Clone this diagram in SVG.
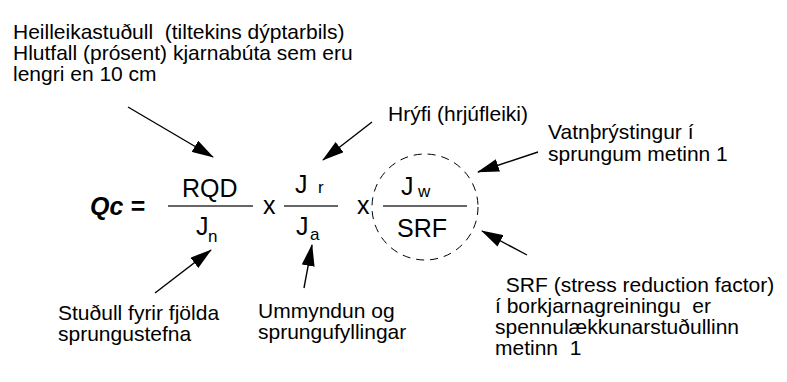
<svg xmlns="http://www.w3.org/2000/svg" width="787" height="382" viewBox="0 0 787 382">
<defs>
<marker id="ah" markerWidth="22" markerHeight="13" refX="21" refY="6.5" orient="auto" markerUnits="userSpaceOnUse" viewBox="0 0 22 13">
<path d="M0,0 L22,6.5 L0,13 Z" fill="#000"/>
</marker>
</defs>
<style>
text{font-family:"Liberation Sans",Arial,sans-serif;fill:#000}
.lbl{font-size:21px}
.f{font-size:25px}
.s{font-size:17px}
.q{font-size:25px;font-weight:bold;font-style:italic}
.bar{stroke:#333;stroke-width:1.4}
.arr{stroke:#000;stroke-width:1.4;fill:none;marker-end:url(#ah)}
</style>
<rect width="787" height="382" fill="#fff"/>
<g id="label-rqd">
<text class="lbl" x="13" y="39" xml:space="preserve">Heilleikastuðull  (tiltekins dýptarbils)</text>
<text class="lbl" x="13" y="60">Hlutfall (prósent) kjarnabúta sem eru</text>
<text class="lbl" x="13" y="81">lengri en 10 cm</text>
</g>
<g id="label-jr">
<text class="lbl" x="388" y="121">Hrýfi (hrjúfleiki)</text>
</g>
<g id="label-jw">
<text class="lbl" x="548" y="139">Vatnþrýstingur í</text>
<text class="lbl" x="548" y="161">sprungum metinn 1</text>
</g>
<g id="label-srf">
<text class="lbl" x="500" y="292" xml:space="preserve"> SRF (stress reduction factor)</text>
<text class="lbl" x="495" y="313" xml:space="preserve">í borkjarnagreiningu  er</text>
<text class="lbl" x="495" y="334">spennulækkunarstuðullinn</text>
<text class="lbl" x="495" y="355" xml:space="preserve">metinn  1</text>
</g>
<g id="label-jn">
<text class="lbl" x="58" y="320">Stuðull fyrir fjölda</text>
<text class="lbl" x="58" y="341">sprungustefna</text>
</g>
<g id="label-ja">
<text class="lbl" x="258" y="318">Ummyndun og</text>
<text class="lbl" x="258" y="339">sprungufyllingar</text>
</g>
<g id="formula">
<text class="q" x="90" y="215">Qc =</text>
<line class="bar" x1="168" y1="206" x2="253" y2="206"/>
<text class="f" x="182" y="197">RQD</text>
<text class="f" x="196" y="235">J</text>
<text class="s" x="208" y="242">n</text>
<text class="f" x="263" y="214">x</text>
<line class="bar" x1="284" y1="206" x2="338" y2="206"/>
<text class="f" x="295" y="193">J</text>
<text class="s" x="318" y="193">r</text>
<text class="f" x="296" y="235">J</text>
<text class="s" x="310" y="240">a</text>
<text class="f" x="357" y="214">x</text>
<circle cx="425" cy="207" r="53" fill="none" stroke="#000" stroke-width="1" stroke-dasharray="8,6"/>
<line class="bar" x1="383" y1="206" x2="467" y2="206"/>
<text class="f" x="401" y="195">J</text>
<text class="s" x="418" y="197">w</text>
<text class="f" x="397" y="237">SRF</text>
</g>
<g id="connectors">
<line class="arr" x1="128" y1="107" x2="213" y2="157"/>
<line class="arr" x1="372" y1="122" x2="323" y2="160"/>
<line class="arr" x1="538" y1="152" x2="478" y2="172"/>
<line class="arr" x1="527" y1="255" x2="482" y2="231"/>
<line class="arr" x1="155" y1="293" x2="211" y2="250"/>
<line class="arr" x1="304" y1="288" x2="312" y2="245"/>
</g>
</svg>
